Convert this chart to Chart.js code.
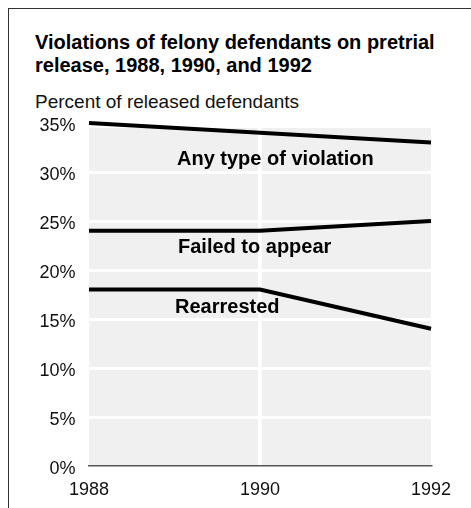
<!DOCTYPE html>
<html><head><meta charset="utf-8">
<script src="https://cdn.jsdelivr.net/npm/chart.js@4.4.0/dist/chart.umd.min.js"></script>
<style>
html,body{margin:0;padding:0;background:#fff;overflow:hidden;}
#wrap{position:relative;width:471px;height:508px;overflow:hidden;}
#frame{position:absolute;left:8px;top:8px;width:600px;height:600px;border-top:1px solid #333;border-left:1px solid #333;}
#title{position:absolute;left:35px;top:30.6px;font:bold 20px/23.5px "Liberation Sans",Arial,sans-serif;color:#000;white-space:nowrap;}
#sub{position:absolute;left:35px;top:92.2px;font:19px/19px "Liberation Sans",Arial,sans-serif;color:#111;white-space:nowrap;}
canvas{position:absolute;left:0;top:0;}
</style></head>
<body><div id="wrap"><div id="frame"></div>
<div id="title">Violations of felony defendants on pretrial<br>release, 1988, 1990, and 1992</div>
<div id="sub">Percent of released defendants</div>
<canvas id="c" width="471" height="508"></canvas></div>
<script>
const years = ['1988', '1990', '1992'];
const anyViolation = [35, 34, 33];
const failedToAppear = [24, 24, 25];
const rearrested = [18, 18, 14];
const yTickValues = [0, 5, 10, 15, 20, 25, 30, 35];
const yTickLabels = ['0%', '5%', '10%', '15%', '20%', '25%', '30%', '35%'];
const seriesNames = ['Any type of violation', 'Failed to appear', 'Rearrested'];

const FONT = '"Liberation Sans", Arial, sans-serif';

const bgPlugin = {
  id: 'bg',
  beforeDraw(chart) {
    const {ctx} = chart;
    const xs = chart.scales.x, ys = chart.scales.y;
    const top = ys.getPixelForValue(34.5), bottom = ys.getPixelForValue(0);
    ctx.save();
    ctx.fillStyle = '#f0f0f0';
    ctx.fillRect(xs.left, top, xs.right - xs.left, bottom - top);
    ctx.restore();
  }
};

const labelPlugin = {
  id: 'lineLabels',
  afterDatasetsDraw(chart) {
    const {ctx} = chart;
    const ys = chart.scales.y;
    const left = chart.chartArea.left;
    const spots = [{dx: 88, v: 30.68}, {dx: 89, v: 21.76}, {dx: 86, v: 15.61}];
    ctx.save();
    ctx.font = 'bold 20px ' + FONT;
    ctx.fillStyle = '#000';
    ctx.textAlign = 'left';
    ctx.textBaseline = 'alphabetic';
    seriesNames.forEach((name, i) => {
      ctx.fillText(name, left + spots[i].dx, ys.getPixelForValue(spots[i].v));
    });
    ctx.restore();
  }
};

const lineStyle = {borderColor: '#000', borderWidth: 4, pointRadius: 0, tension: 0, fill: false, borderCapStyle: 'butt', clip: 10};

new Chart(document.getElementById('c'), {
  type: 'line',
  data: {
    labels: years,
    datasets: [
      Object.assign({label: seriesNames[0], data: anyViolation}, lineStyle),
      Object.assign({label: seriesNames[1], data: failedToAppear}, lineStyle),
      Object.assign({label: seriesNames[2], data: rearrested}, lineStyle)
    ]
  },
  options: {
    responsive: false,
    devicePixelRatio: 1,
    animation: false,
    layout: {padding: {left: 0, top: 123, right: 40, bottom: 0}},
    plugins: {legend: {display: false}, title: {display: false}, tooltip: {enabled: false}},
    scales: {
      x: {
        offset: false,
        afterFit(s) { s.height = 42; },
        grid: {
          color: c => c.index === 1 ? '#ffffff' : 'rgba(0,0,0,0)',
          lineWidth: 3.5,
          drawTicks: false
        },
        border: {display: true, color: '#555', width: 1.5},
        ticks: {font: {family: FONT, size: 18}, color: '#111', padding: 13, maxRotation: 0}
      },
      y: {
        min: 0, max: 35,
        afterFit(s) { s.width = 89; },
        afterBuildTicks(s) { s.ticks = yTickValues.map(v => ({value: v})); },
        grid: {
          color: c => (c.tick && c.tick.value > 0 && c.tick.value < 35) ? '#ffffff' : 'rgba(0,0,0,0)',
          lineWidth: 3,
          drawTicks: false
        },
        border: {display: false},
        ticks: {
          font: {family: FONT, size: 18}, color: '#111', padding: 13.5, labelOffset: 3.5,
          callback: (v) => yTickLabels[yTickValues.indexOf(v)]
        }
      }
    }
  },
  plugins: [bgPlugin, labelPlugin]
});
</script>
</body></html>
